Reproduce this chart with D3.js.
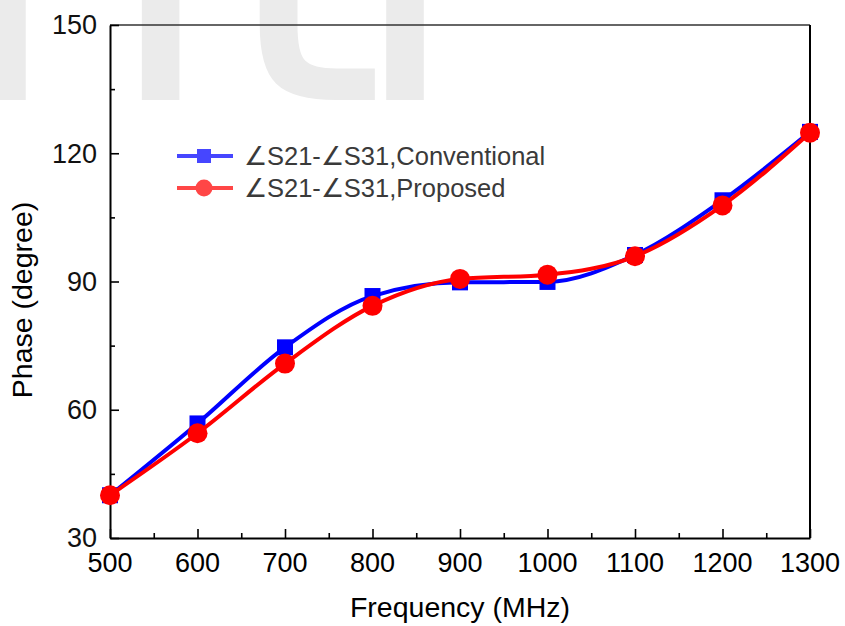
<!DOCTYPE html>
<html>
<head>
<meta charset="utf-8">
<script src="https://cdn.jsdelivr.net/npm/d3@7"></script>
<style>
  html, body { margin: 0; padding: 0; background: #fff; }
  svg { display: block; }
  text { font-family: "Liberation Sans", Arial, sans-serif; }
</style>
</head>
<body>
<svg id="chart" width="845" height="626"></svg>
<script>
// Frequency sweep (MHz) and phase difference (degree) for both couplers
const frequencies = [500, 600, 700, 800, 900, 1000, 1100, 1200, 1300];
const conventional = [40, 56.8, 74.6, 86.6, 89.8, 89.9, 96.2, 109.0, 125.0];
const proposed     = [40, 54.5, 70.8, 84.3, 90.6, 91.6, 95.9, 107.8, 124.8];
const xTicks = [500, 600, 700, 800, 900, 1000, 1100, 1200, 1300];
const yTicks = [30, 60, 90, 120, 150];
const seriesNames = ["\u2220S21-\u2220S31,Conventional", "\u2220S21-\u2220S31,Proposed"];

const svg = d3.select("#chart");
const plotLeft = 110, plotRight = 810, plotTop = 25, plotBottom = 538;

const x = d3.scaleLinear().domain([500, 1300]).range([plotLeft, plotRight]);
const y = d3.scaleLinear().domain([30, 150]).range([plotBottom, plotTop]);

// faint background lettering, mostly above the top edge
const bg = svg.append("text")
  .attr("x", -50).attr("y", 100)
  .style("font-family", "'DejaVu Sans'")
  .style("font-size", "418px")
  .attr("fill", "#ebebeb");
bg.append("tspan").attr("dx", 0).text("n");
bg.append("tspan").attr("dx", 6).text("t");
bg.append("tspan").attr("dx", -38).text("i");

// frame
svg.append("line").attr("x1", plotLeft).attr("x2", plotRight).attr("y1", plotTop).attr("y2", plotTop)
  .attr("stroke", "#333").attr("stroke-width", 1.5);
svg.append("line").attr("x1", plotRight).attr("x2", plotRight).attr("y1", plotTop).attr("y2", plotBottom)
  .attr("stroke", "#000").attr("stroke-width", 2);

// bottom axis, ticks pointing into the plot
const xAxis = svg.append("g").attr("transform", `translate(0,${plotBottom})`)
  .call(d3.axisBottom(x).tickValues(d3.range(500, 1301, 50)).tickSize(0).tickFormat(""));
xAxis.select(".domain").attr("stroke", "#000").attr("stroke-width", 2);
xAxis.selectAll(".tick line")
  .attr("y2", d => d % 100 === 0 ? -9 : -5)
  .attr("stroke", "#000").attr("stroke-width", 1.6);
svg.append("g").selectAll("text").data(xTicks).join("text")
  .attr("x", d => x(d)).attr("y", 572)
  .attr("text-anchor", "middle").attr("font-size", 27).attr("fill", "#000")
  .text(d => d);

// left axis
const yAxis = svg.append("g").attr("transform", `translate(${plotLeft},0)`)
  .call(d3.axisLeft(y).tickValues(d3.range(30, 151, 15)).tickSize(0).tickFormat(""));
yAxis.select(".domain").attr("stroke", "#000").attr("stroke-width", 2);
yAxis.selectAll(".tick line")
  .attr("x2", d => d % 30 === 0 ? 9 : 5)
  .attr("stroke", "#000").attr("stroke-width", 1.6);
svg.append("g").selectAll("text").data(yTicks).join("text")
  .attr("x", 97).attr("y", d => y(d)).attr("dy", "0.35em")
  .attr("text-anchor", "end").attr("font-size", 27).attr("fill", "#111")
  .text(d => d);

// axis titles
svg.append("text").attr("x", 460).attr("y", 617)
  .attr("text-anchor", "middle").attr("font-size", 28.5).attr("fill", "#000")
  .text("Frequency (MHz)");
svg.append("text").attr("transform", "translate(32,300) rotate(-90)")
  .attr("text-anchor", "middle").attr("font-size", 28.5).attr("fill", "#000")
  .text("Phase (degree)");

// series
const line = d3.line().x(d => x(d[0])).y(d => y(d[1])).curve(d3.curveMonotoneX);
const blueData = frequencies.map((f, i) => [f, conventional[i]]);
const redData = frequencies.map((f, i) => [f, proposed[i]]);

svg.append("path").datum(blueData).attr("d", line)
  .attr("fill", "none").attr("stroke", "#0000ff").attr("stroke-width", 4);
svg.append("g").selectAll("rect").data(blueData).join("rect")
  .attr("x", d => x(d[0]) - 8).attr("y", d => y(d[1]) - 8)
  .attr("width", 16).attr("height", 16).attr("fill", "#0000ff");

svg.append("path").datum(redData).attr("d", line)
  .attr("fill", "none").attr("stroke", "#ff0000").attr("stroke-width", 4);
svg.append("g").selectAll("circle").data(redData).join("circle")
  .attr("cx", d => x(d[0])).attr("cy", d => y(d[1])).attr("r", 10)
  .attr("fill", "#ff0000");

// legend
const legend = svg.append("g");
const rows = [
  { name: seriesNames[0], color: "#4646ff", shape: "square", yy: 156 },
  { name: seriesNames[1], color: "#ff4646", shape: "circle", yy: 188 }
];
rows.forEach(r => {
  legend.append("line").attr("x1", 177).attr("x2", 233).attr("y1", r.yy).attr("y2", r.yy)
    .attr("stroke", r.color).attr("stroke-width", 4);
  if (r.shape === "square") {
    legend.append("rect").attr("x", 197).attr("y", r.yy - 7).attr("width", 14).attr("height", 14)
      .attr("fill", r.color);
  } else {
    legend.append("circle").attr("cx", 204).attr("cy", r.yy).attr("r", 8.5).attr("fill", r.color);
  }
  legend.append("text").attr("x", 244).attr("y", r.yy).attr("dy", "0.35em")
    .attr("font-size", 25.5).attr("fill", "#3a3a3a").text(r.name);
});
</script>
</body>
</html>
